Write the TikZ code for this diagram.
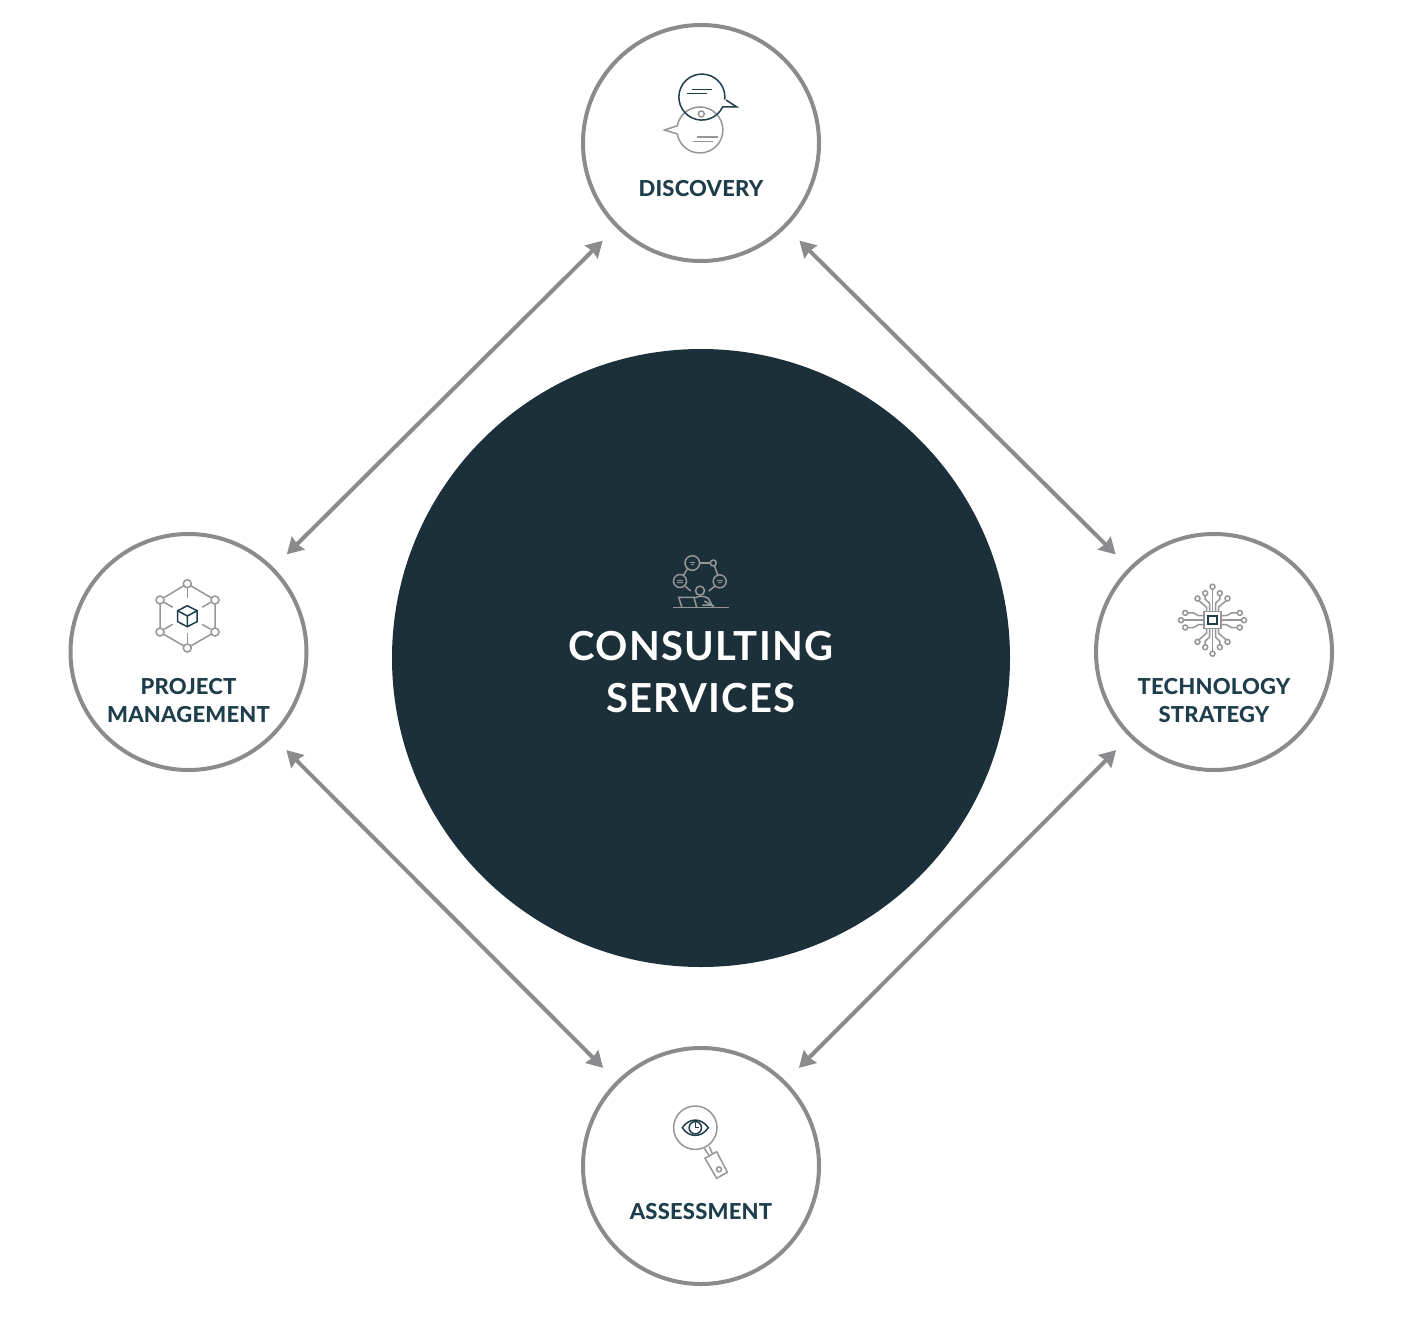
\documentclass[tikz,border=0pt]{standalone}
\usepackage{fontspec}
\setmainfont{Lato}
\newfontfamily\labelfont[LetterSpace=1]{Lato Heavy}
\newfontfamily\titlefont[LetterSpace=3,BoldFont={Lato Bold}]{Lato}
\usetikzlibrary{arrows.meta}
\definecolor{deepteal}{HTML}{1B3039}
\definecolor{labelteal}{HTML}{1D3E4A}
\definecolor{ringgrey}{HTML}{8B8B8D}
\definecolor{icongrey}{HTML}{949698}

\begin{document}
\begin{tikzpicture}[
    x=1pt, y=-1pt,
    phase/.style={circle, draw=ringgrey, line width=4pt, fill=white, minimum size=236pt, inner sep=0pt},
    hub/.style={circle, fill=deepteal, minimum size=618pt, inner sep=0pt},
    phaselabel/.style={font=\labelfont\fontsize{22}{28}\selectfont, text=labelteal, align=center, inner sep=0pt},
    hublabel/.style={font=\titlefont\bfseries\fontsize{40}{52}\selectfont, text=white, align=center, inner sep=0pt},
    link/.style={draw=ringgrey, line width=4pt, {Stealth[length=16pt,width=18pt,inset=1.5pt]}-{Stealth[length=16pt,width=18pt,inset=1.5pt]}, shorten <=18.6pt, shorten >=18.6pt},
    darkline/.style={draw=labelteal, line width=1.5pt},
    greyline/.style={draw=icongrey, line width=1.5pt},
]
\useasboundingbox (0,0) rectangle (1401,1317);

% Hub and the four phases
\node[hub] (hub) at (701,658) {};
\node[phase] (discovery) at (701,143) {};
\node[phase] (project) at (188.5,652) {};
\node[phase] (technology) at (1214,652) {};
\node[phase] (assessment) at (701,1166) {};

% Arrows around the hub
\draw[link] (discovery) -- (project);
\draw[link] (discovery) -- (technology);
\draw[link] (assessment) -- (project);
\draw[link] (assessment) -- (technology);

% Labels
\node[hublabel] (hubtext) at (701,672) {CONSULTING\\SERVICES};
\node[phaselabel] (discoverytext) at (701,189) {DISCOVERY};
\node[phaselabel] (projecttext) at (188.5,701) {PROJECT\\MANAGEMENT};
\node[phaselabel] (technologytext) at (1214,701) {TECHNOLOGY\\STRATEGY};
\node[phaselabel] (assessmenttext) at (701,1212) {ASSESSMENT};

% Speech bubbles
\draw[greyline, line join=miter] (677.3,134) -- (664.5,130) -- (677.3,125.7) arc[start angle=190.7, end angle=530, radius=23];
\draw[greyline] (701.3,114) circle (3);
\draw[greyline] (697.3,137) -- (718,137);
\draw[greyline] (692.7,141.3) -- (712.7,141.3);
\draw[darkline, line join=miter] (726,100) -- (736.5,106.8) -- (722.7,106.8) arc[start angle=25, end angle=366.5, radius=23];
\draw[darkline] (692.3,89.3) -- (712,89.3);
\draw[darkline] (687.3,93.7) -- (707.3,93.7);

% People around a laptop
\draw[greyline] (692.3,563) circle (7.3);
\draw[greyline] (713.3,563) circle (3);
\draw[greyline] (719.7,581.3) circle (6.5);
\draw[greyline] (680,581) circle (6.5);
\draw[greyline] (700,590.7) circle (4.5);
\draw[greyline] (699.6,563) -- (710.3,563);
\draw[greyline] (714.7,566) -- (717.7,575);
\draw[greyline] (687.7,568.3) -- (683.3,575.7);
\draw[greyline] (685.3,586.3) -- (690.7,591);
\draw[greyline] (714.7,586.3) -- (708.7,591);
\draw[greyline] (673.3,607.7) -- (728.7,607.7);
\draw[greyline] (682,607.7) -- (678.7,597.3) -- (694,597.3) -- (696.7,607.7);
\draw[greyline] (695.3,597.7) .. controls (700,595.5) and (704,596) .. (708.3,598.3) -- (713.3,607.7);
\draw[greyline] (702.3,605) -- (711.7,605) -- (704.3,601);
\draw[greyline, line width=0.8pt] (689.7,562.3) -- (695,562.3) (691,564.3) -- (693.7,564.3);
\draw[greyline, line width=0.8pt] (677,580) -- (683,580) (677,582) -- (683,582);
\draw[greyline, line width=0.8pt] (717,580.5) -- (722.5,580.5) (718,582.5) -- (721.5,582.5);

% Cube in a network
\draw[greyline] (187.3,583.7) -- (215,600) -- (215,632) -- (187.3,648) -- (160,632) -- (160,600) -- cycle;
\foreach \nx/\ny in {187.3/583.7, 215/600, 215/632, 187.3/648, 160/632, 160/600}
    \filldraw[greyline, fill=white] (\nx,\ny) circle (4);
\draw[greyline] (187.3,588.3) -- (187.3,598.3);
\draw[greyline] (187.3,633.3) -- (187.3,643.3);
\draw[greyline] (210.7,602.3) -- (202,607.3);
\draw[greyline] (210.7,629.3) -- (202,624.3);
\draw[greyline] (164,602.3) -- (172.7,607.3);
\draw[greyline] (164,629.3) -- (172.7,624.3);
\draw[darkline] (187.3,605.7) -- (197,610.7) -- (197,621.7) -- (187.3,626.7) -- (177.7,621.7) -- (177.7,610.7) -- cycle;
\draw[darkline] (177.7,610.7) -- (187.3,616) -- (197,610.7) (187.3,616) -- (187.3,626.7);

% Chip with traces
\begin{scope}[shift={(1212.5,620.2)}]
\foreach \turn in {0,180} {
    \begin{scope}[rotate=\turn]
    \draw[greyline] (0,-8) -- (0,-31);
    \draw[greyline] (0,-33.5) circle (2.5);
    \foreach \side in {-1,1} {
        \draw[greyline] (3*\side,-8) -- (3*\side,-17) -- (7.3*\side,-21) -- (7.3*\side,-24.5);
        \draw[greyline] (7.3*\side,-27) circle (2.5);
        \draw[greyline] (6*\side,-8) -- (6*\side,-13) -- (13.5*\side,-19.5);
        \draw[greyline] (15*\side,-21.7) circle (2.5);
    }
    \end{scope}
}
\foreach \turn in {90,270} {
    \begin{scope}[rotate=\turn]
    \draw[greyline] (0,-8) -- (0,-29);
    \draw[greyline] (0,-31.5) circle (2.5);
    \foreach \side in {-1,1} {
        \draw[greyline] (4.5*\side,-8) -- (4.5*\side,-14) -- (7.3*\side,-19) -- (7.3*\side,-24.8);
        \draw[greyline] (7.3*\side,-27.3) circle (2.5);
    }
    \end{scope}
}
\draw[greyline, fill=white] (-8.5,-8.5) rectangle (8.5,8.5);
\draw[darkline, line width=1.9pt] (-4.2,-4.2) rectangle (4.2,4.2);
\end{scope}

% Magnifier with eye
\draw[greyline] (695.3,1127.7) circle (21.7);
\draw[greyline] (704.3,1148.5) -- (709.5,1156) (709.3,1146.5) -- (712.5,1154);
\draw[greyline] (705,1158.3) -- (716.7,1151.7) -- (727.3,1172.3) -- (716.7,1178.3) -- cycle;
\draw[greyline] (719,1169.3) circle (2.5);
\draw[darkline] (682.3,1127.7) .. controls (689,1117.5) and (701.5,1117.5) .. (708.3,1127.7) .. controls (701.5,1138) and (689,1138) .. cycle;
\draw[darkline] (695.3,1127.7) circle (6.2);
\draw[darkline] (695.3,1121.5) -- (695.3,1127.7) -- (698.5,1127.7);
\end{tikzpicture}
\end{document}
